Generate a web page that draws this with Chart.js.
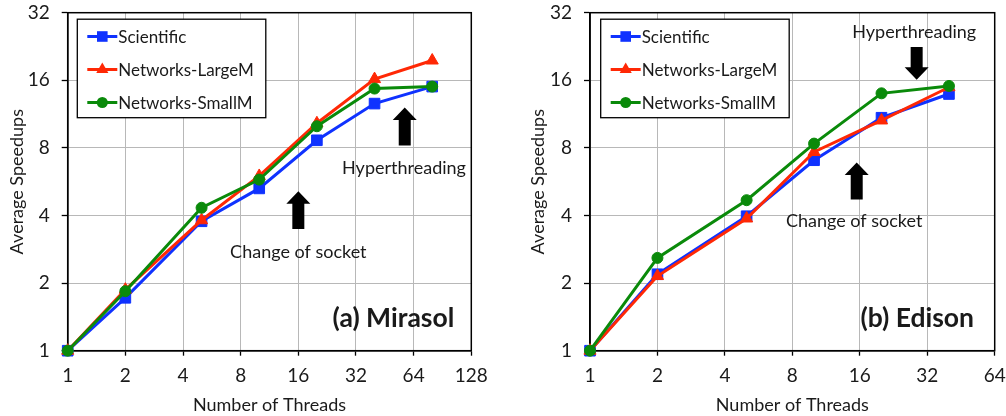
<!DOCTYPE html>
<html><head><meta charset="utf-8">
<script src="https://cdn.jsdelivr.net/npm/chart.js@4.4.0/dist/chart.umd.min.js"></script>
<style>
html,body{margin:0;padding:0;background:#fff;width:1006px;height:416px;overflow:hidden}
#wrapA{position:absolute;left:0;top:0;width:500px;height:416px}
#wrapB{position:absolute;left:520px;top:0;width:486px;height:416px}
</style></head><body>
<div id="wrapA"><canvas id="chartA" width="500" height="416"></canvas></div>
<div id="wrapB"><canvas id="chartB" width="486" height="416"></canvas></div>
<script>
// ---- data ----
const seriesNames = ['Scientific', 'Networks-LargeM', 'Networks-SmallM'];
const speedupTicks = [1, 2, 4, 8, 16, 32];

const mirasolThreads = [1, 2, 5, 10, 20, 40, 80];
const mirasolScientific = [1, 1.72, 3.77, 5.28, 8.65, 12.6, 15.0];
const mirasolLargeM = [1, 1.87, 3.81, 6.0, 10.3, 16.2, 19.6];
const mirasolSmallM = [1, 1.84, 4.33, 5.78, 9.99, 14.7, 15.0];
const mirasolThreadTicks = [1, 2, 4, 8, 16, 32, 64, 128];

const edisonThreads = [1, 2, 5, 10, 20, 40];
const edisonScientific = [1, 2.19, 3.97, 7.05, 10.9, 13.9];
const edisonLargeM = [1, 2.15, 3.88, 7.67, 10.6, 14.9];
const edisonSmallM = [1, 2.59, 4.68, 8.36, 14.0, 15.1];
const edisonThreadTicks = [1, 2, 4, 8, 16, 32, 64];

// ---- styling ----
const FONT = 'Lato, "Open Sans", sans-serif';
const TXT = '#1a1a1a';
const styles = [
  {color: 'rgb(15,50,255)', pointStyle: 'rect', radius: 7.5, order: 2},
  {color: 'rgb(255,40,5)', pointStyle: 'triangle', radius: 7, order: 1},
  {color: 'rgb(10,138,10)', pointStyle: 'circle', radius: 5.5, order: 0}
];

function pts(xs, ys) { return xs.map((x, i) => ({x: x, y: ys[i]})); }

function drawMarker(ctx, style, x, y) {
  ctx.fillStyle = style.color;
  ctx.beginPath();
  const r = style.radius;
  if (style.pointStyle === 'rect') {
    const s = r * Math.SQRT1_2;
    ctx.rect(x - s, y - s, 2 * s, 2 * s);
  } else if (style.pointStyle === 'triangle') {
    for (let k = 0; k < 3; k++) {
      const ang = k * 2 * Math.PI / 3;
      const px = x + Math.sin(ang) * r, py = y - Math.cos(ang) * r;
      if (k === 0) ctx.moveTo(px, py); else ctx.lineTo(px, py);
    }
    ctx.closePath();
  } else {
    ctx.arc(x, y, r, 0, Math.PI * 2);
  }
  ctx.fill();
}

const overlayPlugin = {
  id: 'overlay',
  beforeDatasetsDraw(chart) {
    const ctx = chart.ctx, a = chart.chartArea;
    ctx.save();
    ctx.strokeStyle = '#000'; ctx.lineWidth = 1.5;
    ctx.strokeRect(a.left, a.top, a.right - a.left, a.bottom - a.top);
    ctx.restore();
  },
  afterDraw(chart, args, opts) {
    const ctx = chart.ctx, a = chart.chartArea, xs = chart.scales.x, ys = chart.scales.y;
    ctx.save();
    // arrows
    (opts.arrows || []).forEach(ar => {
      const x = xs.getPixelForValue(ar.x), y0 = ys.getPixelForValue(ar.from), y1 = ys.getPixelForValue(ar.to);
      const dir = Math.sign(y1 - y0);
      const headH = 12.5, headW = 12, shaftW = 6;
      const yb = y1 - dir * headH;
      ctx.beginPath();
      ctx.moveTo(x - shaftW, y0); ctx.lineTo(x + shaftW, y0); ctx.lineTo(x + shaftW, yb);
      ctx.lineTo(x + headW, yb); ctx.lineTo(x, y1); ctx.lineTo(x - headW, yb); ctx.lineTo(x - shaftW, yb);
      ctx.closePath();
      ctx.fillStyle = '#000'; ctx.fill();
    });
    // notes
    ctx.fillStyle = TXT; ctx.textBaseline = 'middle'; ctx.textAlign = 'center';
    ctx.font = '18px ' + FONT;
    (opts.notes || []).forEach(n => {
      ctx.fillText(n.text, xs.getPixelForValue(n.x), ys.getPixelForValue(n.y));
    });
    // panel label
    if (opts.panel) {
      ctx.font = 'bold 26.5px ' + FONT;
      ctx.textAlign = 'right';
      ctx.fillText(opts.panel.text, a.right - opts.panel.dx, a.bottom - opts.panel.dy);
    }
    // legend box
    ctx.font = '17px ' + FONT;
    const ds = chart.data.datasets;
    let tw = 0;
    ds.forEach(d => { tw = Math.max(tw, ctx.measureText(d.label).width); });
    const bx = a.left + opts.legend.dx, by = a.top + 6.5;
    const bw = 10 + 30 + 1 + tw + 12, bh = 98.5;
    ctx.fillStyle = '#fff';
    ctx.fillRect(bx, by, bw, bh);
    ctx.strokeStyle = '#000'; ctx.lineWidth = 1.3;
    ctx.strokeRect(bx, by, bw, bh);
    ds.forEach((d, i) => {
      const st = styles[i];
      const cy = by + 17.3 + i * 33;
      ctx.strokeStyle = st.color; ctx.lineWidth = 3;
      ctx.beginPath(); ctx.moveTo(bx + 10, cy); ctx.lineTo(bx + 40, cy); ctx.stroke();
      drawMarker(ctx, st, bx + 25, cy);
      ctx.fillStyle = TXT; ctx.textAlign = 'left'; ctx.textBaseline = 'middle';
      ctx.fillText(d.label, bx + 41, cy + 1);
    });
    ctx.restore();
  }
};

function makeChart(id, threads, series, xTicks, xMax, yAxisWidth, padRight, yTitlePad, overlay) {
  const datasets = series.map((vals, i) => ({
    label: seriesNames[i],
    data: pts(threads, vals),
    borderColor: styles[i].color,
    backgroundColor: styles[i].color,
    pointBackgroundColor: styles[i].color,
    pointBorderColor: styles[i].color,
    pointStyle: styles[i].pointStyle,
    pointRadius: styles[i].radius,
    pointBorderWidth: 1,
    borderWidth: 3,
    tension: 0,
    order: styles[i].order,
    clip: false
  }));
  return new Chart(document.getElementById(id), {
    type: 'line',
    data: {datasets: datasets},
    plugins: [overlayPlugin],
    options: {
      responsive: false,
      devicePixelRatio: 1,
      animation: false,
      layout: {padding: {top: 12.7, right: padRight, left: 0, bottom: 0}},
      plugins: {
        legend: {display: false},
        tooltip: {enabled: false},
        overlay: overlay
      },
      scales: {
        x: {
          type: 'logarithmic', min: 1, max: xMax,
          afterBuildTicks: s => { s.ticks = xTicks.map(v => ({value: v})); },
          afterFit: s => { s.height = 65.3; s.paddingLeft = 0; s.paddingRight = 0; },
          ticks: {color: TXT, font: {family: FONT, size: 19}, padding: 9,
                  callback: v => String(v), maxRotation: 0, autoSkip: false},
          grid: {color: '#b8b8b8', borderDash: [1, 2], lineWidth: 1, tickColor: '#000', tickLength: 5, tickBorderDash: [], tickWidth: 1.3},
          border: {display: true, color: '#000', width: 1.5},
          title: {display: true, text: 'Number of Threads', color: TXT, font: {family: FONT, size: 18}, padding: {top: 0, bottom: 0}}
        },
        y: {
          type: 'logarithmic', min: 1, max: 32,
          afterBuildTicks: s => { s.ticks = speedupTicks.map(v => ({value: v})); },
          afterFit: s => { s.width = yAxisWidth; s.paddingTop = 0; s.paddingBottom = 0; },
          ticks: {color: TXT, font: {family: FONT, size: 19}, padding: 12, callback: v => String(v)},
          grid: {color: '#b8b8b8', borderDash: [1, 2], lineWidth: 1, tickColor: '#000', tickLength: 6, tickBorderDash: [], tickWidth: 1.3},
          border: {display: true, color: '#000', width: 1.5},
          title: {display: true, text: 'Average Speedups', color: TXT, font: {family: FONT, size: 18}, padding: {top: yTitlePad, bottom: 0}}
        }
      }
    }
  });
}

makeChart('chartA', mirasolThreads, [mirasolScientific, mirasolLargeM, mirasolSmallM],
  mirasolThreadTicks, 128, 67.7, 28.7, 6, {
    arrows: [{x: 16, from: 3.48, to: 5.13}, {x: 57.5, from: 8.2, to: 12.1}],
    notes: [{x: 16, y: 2.75, text: 'Change of socket'}, {x: 57, y: 6.5, text: 'Hyperthreading'}],
    panel: {text: '(a) Mirasol', dx: 17, dy: 32},
    legend: {dx: 9.6}
  });

makeChart('chartB', edisonThreads, [edisonScientific, edisonLargeM, edisonSmallM],
  edisonThreadTicks, 64, 70, 11.3, 7.7, {
    arrows: [{x: 15.5, from: 4.71, to: 6.88}, {x: 28.7, from: 22.5, to: 16.1}],
    notes: [{x: 15.1, y: 3.77, text: 'Change of socket'}, {x: 28, y: 26.2, text: 'Hyperthreading'}],
    panel: {text: '(b) Edison', dx: 20.7, dy: 32},
    legend: {dx: 10.7}
  });
</script></body></html>
